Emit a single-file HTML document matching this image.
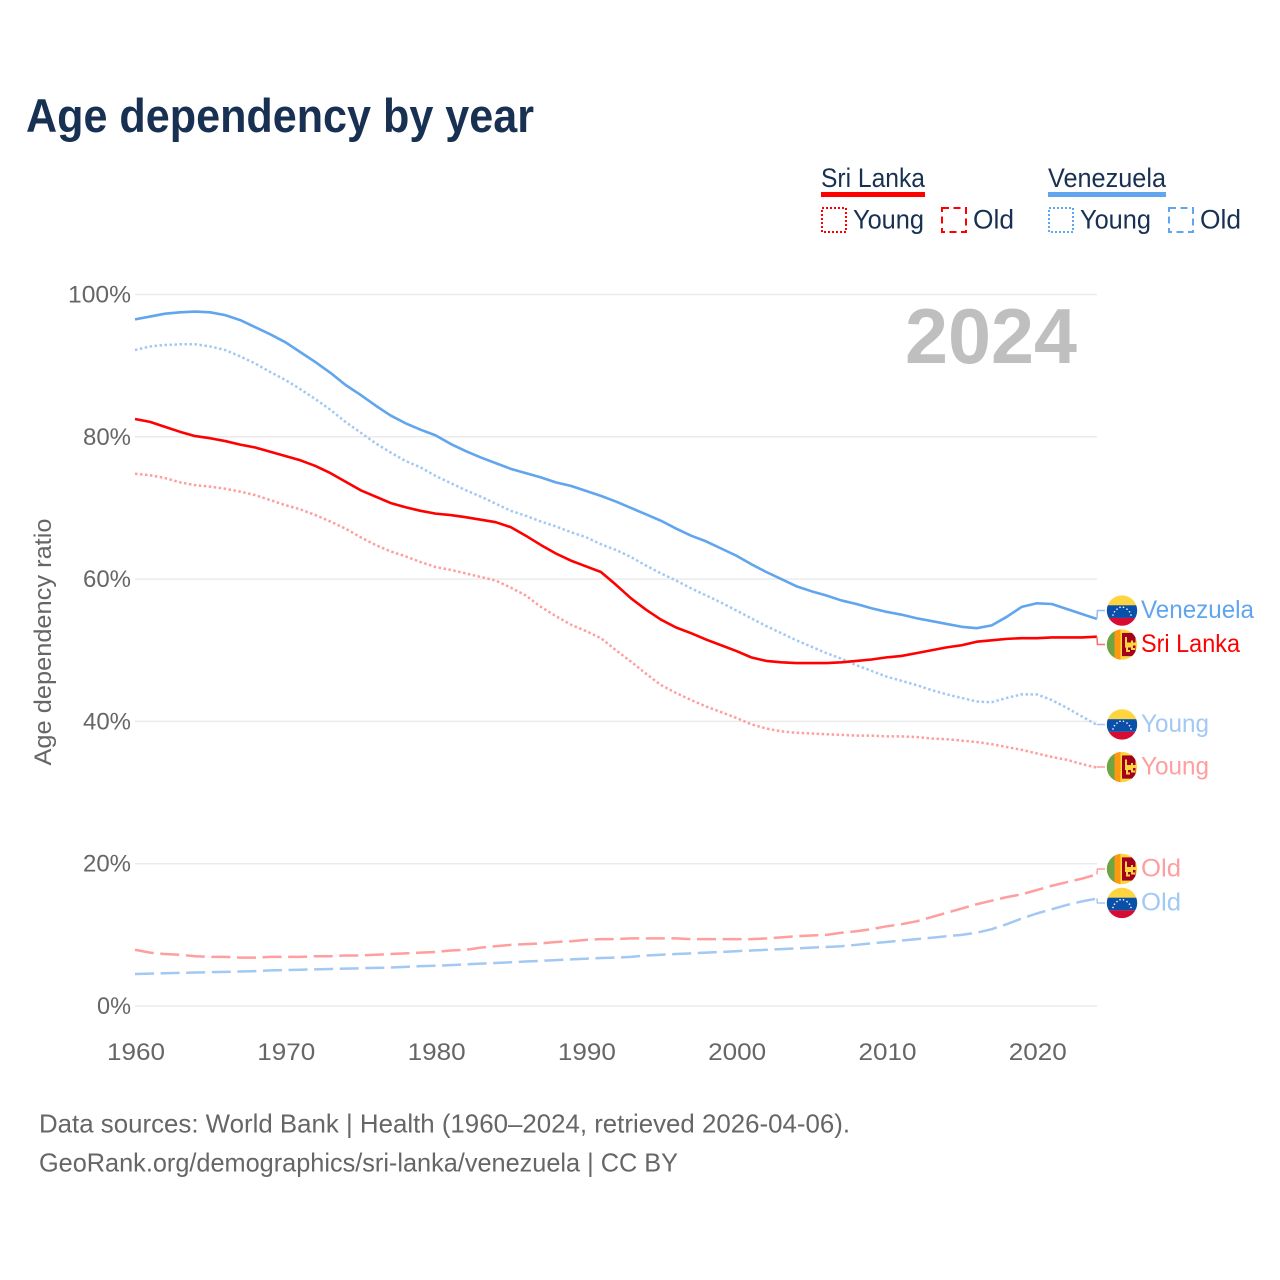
<!DOCTYPE html>
<html lang="en">
<head>
<meta charset="utf-8">
<title>Age dependency by year</title>
<style>
html,body{margin:0;padding:0;background:#fff;}
svg{display:block;font-family:"Liberation Sans",sans-serif;}
</style>
</head>
<body>
<svg id="chart" xmlns="http://www.w3.org/2000/svg" width="1280" height="1280" viewBox="0 0 1280 1280">
  <defs>
    <clipPath id="flag-clip"><circle cx="0" cy="0" r="15.2"/></clipPath>
    <symbol id="flag-ve" overflow="visible" viewBox="-17 -17 34 34" width="34" height="34">
      <circle cx="0" cy="0" r="16.4" fill="#fff"/>
      <g clip-path="url(#flag-clip)">
        <rect x="-16" y="-16" width="32" height="10.7" fill="#FFD53F"/>
        <rect x="-16" y="-5.3" width="32" height="12.7" fill="#0A4FA8"/>
        <rect x="-16" y="7.4" width="32" height="9" fill="#D80B32"/>
        <g fill="#fff">
          <circle cx="-9" cy="4.5" r=".8"/><circle cx="-7.5" cy="1.2" r=".8"/><circle cx="-5" cy="-1.4" r=".8"/>
          <circle cx="-2" cy="-3.2" r=".8"/><circle cx="1.5" cy="-3.2" r=".8"/><circle cx="5" cy="-1.4" r=".8"/>
          <circle cx="7.5" cy="1.2" r=".8"/><circle cx="9" cy="4.5" r=".8"/>
        </g>
      </g>
    </symbol>
    <symbol id="flag-lk" overflow="visible" viewBox="-17 -17 34 34" width="34" height="34">
      <circle cx="0" cy="0" r="16.4" fill="#fff"/>
      <g clip-path="url(#flag-clip)">
        <rect x="-16" y="-16" width="32" height="32" fill="#FFD53F"/>
        <rect x="-16" y="-16" width="8.5" height="32" fill="#6DA544"/>
        <rect x="-7.5" y="-16" width="6" height="32" fill="#FF9811"/>
        <rect x="0" y="-11.6" width="13.5" height="23.2" fill="#A2001D"/>
        <path d="M3 -7.5h2v5.5h4v-2h2v2h4v3h-4v2.5h2v2h-4v-2.5h-3v2.5h2v2h-4v-4.5h-1z" fill="#FFD53F"/>
      </g>
    </symbol>
  </defs>

  <text x="26" y="132" font-size="47" font-weight="700" fill="#183153" textLength="508" lengthAdjust="spacingAndGlyphs">Age dependency by year</text>

  <g font-size="26.5" fill="#183153">
    <g>
      <text x="821" y="187" textLength="104" lengthAdjust="spacingAndGlyphs">Sri Lanka</text>
      <rect x="821" y="192" width="104" height="5" fill="#FF0000"/>
      <rect x="822" y="208" width="24" height="24" fill="none" stroke="#FF0000" stroke-width="2" stroke-dasharray="2 2"/>
      <text x="853" y="228.5" textLength="71" lengthAdjust="spacingAndGlyphs">Young</text>
      <rect x="942" y="208" width="24" height="24" fill="none" stroke="#FF0000" stroke-width="2" stroke-dasharray="7 4.5"/>
      <text x="973" y="228.5" textLength="41" lengthAdjust="spacingAndGlyphs">Old</text>
    </g>
    <g>
      <text x="1048" y="187" textLength="118" lengthAdjust="spacingAndGlyphs">Venezuela</text>
      <rect x="1048" y="192" width="118" height="5" fill="#60A5EE"/>
      <rect x="1049" y="208" width="24" height="24" fill="none" stroke="#60A5EE" stroke-width="2" stroke-dasharray="2 2"/>
      <text x="1080" y="228.5" textLength="71" lengthAdjust="spacingAndGlyphs">Young</text>
      <rect x="1169" y="208" width="24" height="24" fill="none" stroke="#60A5EE" stroke-width="2" stroke-dasharray="7 4.5"/>
      <text x="1200" y="228.5" textLength="41" lengthAdjust="spacingAndGlyphs">Old</text>
    </g>
  </g>

  <g id="grid"></g>
  <g id="y-ticks"></g>
  <g id="x-ticks"></g>
  <text transform="translate(51,642) rotate(-90)" text-anchor="middle" font-size="24.5" fill="#666666" textLength="247" lengthAdjust="spacingAndGlyphs">Age dependency ratio</text>
  <text x="905" y="363" font-size="78" font-weight="700" fill="#BFBFBF" textLength="172" lengthAdjust="spacingAndGlyphs">2024</text>

  <g id="series"></g>
  <g id="end-labels"></g>

  <g font-size="26" fill="#666666">
    <text x="39" y="1132.5" textLength="811" lengthAdjust="spacingAndGlyphs">Data sources: World Bank | Health (1960–2024, retrieved 2026-04-06).</text>
    <text x="39" y="1171.5" textLength="639" lengthAdjust="spacingAndGlyphs">GeoRank.org/demographics/sri-lanka/venezuela | CC BY</text>
  </g>
</svg>

<script>
const firstYear = 1960;
const yTickValues = [0, 20, 40, 60, 80, 100];
const xTickYears = [1960, 1970, 1980, 1990, 2000, 2010, 2020];

const venezuelaTotal = [96.5,96.9,97.3,97.5,97.6,97.5,97.1,96.4,95.4,94.4,93.3,91.9,90.5,89.0,87.3,85.9,84.4,83.0,81.9,81.0,80.2,79.0,78.0,77.1,76.3,75.5,74.9,74.3,73.6,73.1,72.4,71.7,70.9,70.0,69.1,68.2,67.1,66.1,65.3,64.3,63.3,62.1,61.0,60.0,59.0,58.3,57.7,57.0,56.5,55.9,55.4,55.0,54.5,54.1,53.7,53.3,53.1,53.5,54.7,56.1,56.6,56.5,55.8,55.1,54.4];
const sriLankaTotal = [82.5,82.1,81.4,80.7,80.1,79.8,79.4,78.9,78.5,77.9,77.3,76.7,75.9,74.9,73.7,72.5,71.6,70.7,70.1,69.6,69.2,69.0,68.7,68.35,68.0,67.3,66.1,64.8,63.6,62.6,61.8,61.0,59.2,57.3,55.7,54.3,53.2,52.4,51.5,50.7,49.9,49.0,48.5,48.3,48.2,48.2,48.2,48.3,48.5,48.7,49.0,49.2,49.6,50.0,50.4,50.7,51.2,51.4,51.6,51.7,51.7,51.8,51.8,51.8,51.9];
const venezuelaYoung = [92.2,92.7,92.9,93.0,93.0,92.7,92.2,91.3,90.3,89.1,88.0,86.7,85.3,83.8,82.1,80.6,79.1,77.8,76.6,75.7,74.5,73.5,72.5,71.6,70.6,69.6,68.9,68.1,67.4,66.6,65.9,64.9,64.1,63.1,61.9,60.8,59.8,58.7,57.7,56.7,55.6,54.5,53.4,52.4,51.4,50.5,49.6,48.8,47.9,47.1,46.3,45.7,45.1,44.4,43.8,43.3,42.8,42.7,43.3,43.8,43.8,43.0,41.9,40.7,39.5];
const sriLankaYoung = [74.8,74.6,74.2,73.6,73.2,73.0,72.7,72.3,71.8,71.1,70.4,69.8,69.0,68.1,67.1,65.9,64.8,63.9,63.2,62.4,61.7,61.3,60.8,60.3,59.8,58.8,57.7,56.1,54.8,53.6,52.7,51.7,50.0,48.4,46.7,45.1,44.0,43.0,42.1,41.3,40.5,39.6,39.0,38.6,38.4,38.3,38.2,38.1,38.0,38.0,37.9,37.9,37.8,37.6,37.5,37.3,37.1,36.8,36.4,36.0,35.5,35.0,34.6,34.0,33.5];
const sriLankaOld = [7.9,7.5,7.3,7.2,7.0,6.9,6.9,6.8,6.8,6.9,6.9,6.9,7.0,7.0,7.1,7.1,7.2,7.3,7.4,7.5,7.6,7.8,7.9,8.2,8.4,8.6,8.7,8.8,9.0,9.1,9.3,9.4,9.4,9.5,9.5,9.5,9.5,9.4,9.4,9.4,9.4,9.4,9.5,9.65,9.8,9.9,10.0,10.3,10.5,10.8,11.2,11.5,11.9,12.5,13.1,13.7,14.3,14.8,15.3,15.7,16.3,16.9,17.4,17.9,18.5];
const venezuelaOld = [4.5,4.55,4.6,4.65,4.7,4.75,4.8,4.85,4.9,5.0,5.05,5.1,5.15,5.2,5.25,5.3,5.35,5.4,5.5,5.6,5.65,5.75,5.85,5.95,6.05,6.15,6.25,6.35,6.45,6.55,6.65,6.75,6.8,6.9,7.1,7.2,7.3,7.4,7.5,7.6,7.7,7.8,7.9,8.0,8.1,8.2,8.3,8.4,8.6,8.8,9.0,9.2,9.4,9.6,9.8,10.0,10.3,10.8,11.5,12.3,13.0,13.6,14.2,14.7,15.1];

const NS = 'http://www.w3.org/2000/svg';
function xScale(year) { return 135 + (year - 1960) * 15.03; }
function yScale(value) { return 1006 - value * 7.115; }
function make(tag, attrs) {
  const el = document.createElementNS(NS, tag);
  for (const k in attrs) el.setAttribute(k, attrs[k]);
  return el;
}

const grid = document.getElementById('grid');
const yTicks = document.getElementById('y-ticks');
yTickValues.forEach(function (v) {
  const line = make('line', { x1: 135, x2: 1097, y1: yScale(v), y2: yScale(v), stroke: '#EBEBEB', 'stroke-width': 1.5 });
  
  
  grid.appendChild(line);
  const label = make('text', { x: 131, y: yScale(v) + 8, 'text-anchor': 'end', 'font-size': 24, fill: '#666666' });
  
  
  label.setAttribute('textLength', v === 100 ? 63 : (v === 0 ? 34 : 48));
  label.setAttribute('lengthAdjust', 'spacingAndGlyphs');
  label.textContent = v + '%';
  yTicks.appendChild(label);
});

const xTicks = document.getElementById('x-ticks');
xTickYears.forEach(function (yr) {
  const label = make('text', { x: xScale(yr) + 1, y: 1060, 'text-anchor': 'middle', 'font-size': 24, fill: '#666666' });
  
  
  label.setAttribute('textLength', 58);
  label.setAttribute('lengthAdjust', 'spacingAndGlyphs');
  label.textContent = yr;
  xTicks.appendChild(label);
});

const seriesDefs = [
  { key: 'venezuela-old', values: venezuelaOld, color: '#A2C8F4', dash: '19 6.6', width: 2.5, connector: '#A2C8F4', flag: 'flag-ve', label: 'Old', labelWidth: 40, offset: 4.4, labelColor: '#A2C8F4' },
  { key: 'sri-lanka-old', values: sriLankaOld, color: '#FF9E9E', dash: '19 6.6', width: 2.5, connector: '#FF9E9E', flag: 'flag-lk', label: 'Old', labelWidth: 40, offset: -5.4, labelColor: '#FF9E9E' },
  { key: 'sri-lanka-young', values: sriLankaYoung, color: '#FF9E9E', dash: '2.5 2.5', width: 2.5, connector: '#FF9E9E', flag: 'flag-lk', label: 'Young', labelWidth: 68, offset: -0.6, labelColor: '#FF9E9E' },
  { key: 'venezuela-young', values: venezuelaYoung, color: '#A2C8F4', dash: '2.5 2.5', width: 2.5, connector: '#A2C8F4', flag: 'flag-ve', label: 'Young', labelWidth: 68, offset: -0.5, labelColor: '#A2C8F4' },
  { key: 'sri-lanka-total', values: sriLankaTotal, color: '#FF0000', dash: '', width: 2.6, connector: '#FF6A6A', flag: 'flag-lk', label: 'Sri Lanka', labelWidth: 99, offset: 7.8, labelColor: '#FF0000' },
  { key: 'venezuela-total', values: venezuelaTotal, color: '#60A5EE', dash: '', width: 2.6, connector: '#90C0F2', flag: 'flag-ve', label: 'Venezuela', labelWidth: 113, offset: -8.4, labelColor: '#60A5EE' }
];

const seriesGroup = document.getElementById('series');
const labelsGroup = document.getElementById('end-labels');

seriesDefs.forEach(function (s) {
  const pts = s.values.map(function (v, i) { return xScale(firstYear + i).toFixed(2) + ',' + yScale(v).toFixed(2); });
  const line = make('polyline', { points: pts.join(' '), fill: 'none', stroke: s.color, 'stroke-width': s.width, 'stroke-linejoin': 'round' });
  if (s.dash) line.setAttribute('stroke-dasharray', s.dash);
  
  
  seriesGroup.appendChild(line);

  const lastValue = s.values[s.values.length - 1];
  const lastX = xScale(firstYear + s.values.length - 1);
  const endY = yScale(lastValue);
  const labelY = endY + s.offset;

  const conn = make('polyline', { points: lastX + ',' + endY + ' ' + (lastX + 0.5) + ',' + labelY + ' 1105,' + labelY, fill: 'none', stroke: s.connector, 'stroke-width': 1.5 });
  
  
  labelsGroup.appendChild(conn);
});

seriesDefs.forEach(function (s) {
  const lastValue = s.values[s.values.length - 1];
  const labelY = yScale(lastValue) + s.offset;

  const flag = make('use', { href: '#' + s.flag, x: 1122 - 17, y: labelY - 17, width: 34, height: 34 });
  
  
  labelsGroup.appendChild(flag);

  const text = make('text', { x: 1141, y: labelY + 7.5, 'font-size': 25, fill: s.labelColor });
  
  
  text.setAttribute('textLength', s.labelWidth);
  text.setAttribute('lengthAdjust', 'spacingAndGlyphs');
  text.textContent = s.label;
  labelsGroup.appendChild(text);
});
</script>
</body>
</html>
